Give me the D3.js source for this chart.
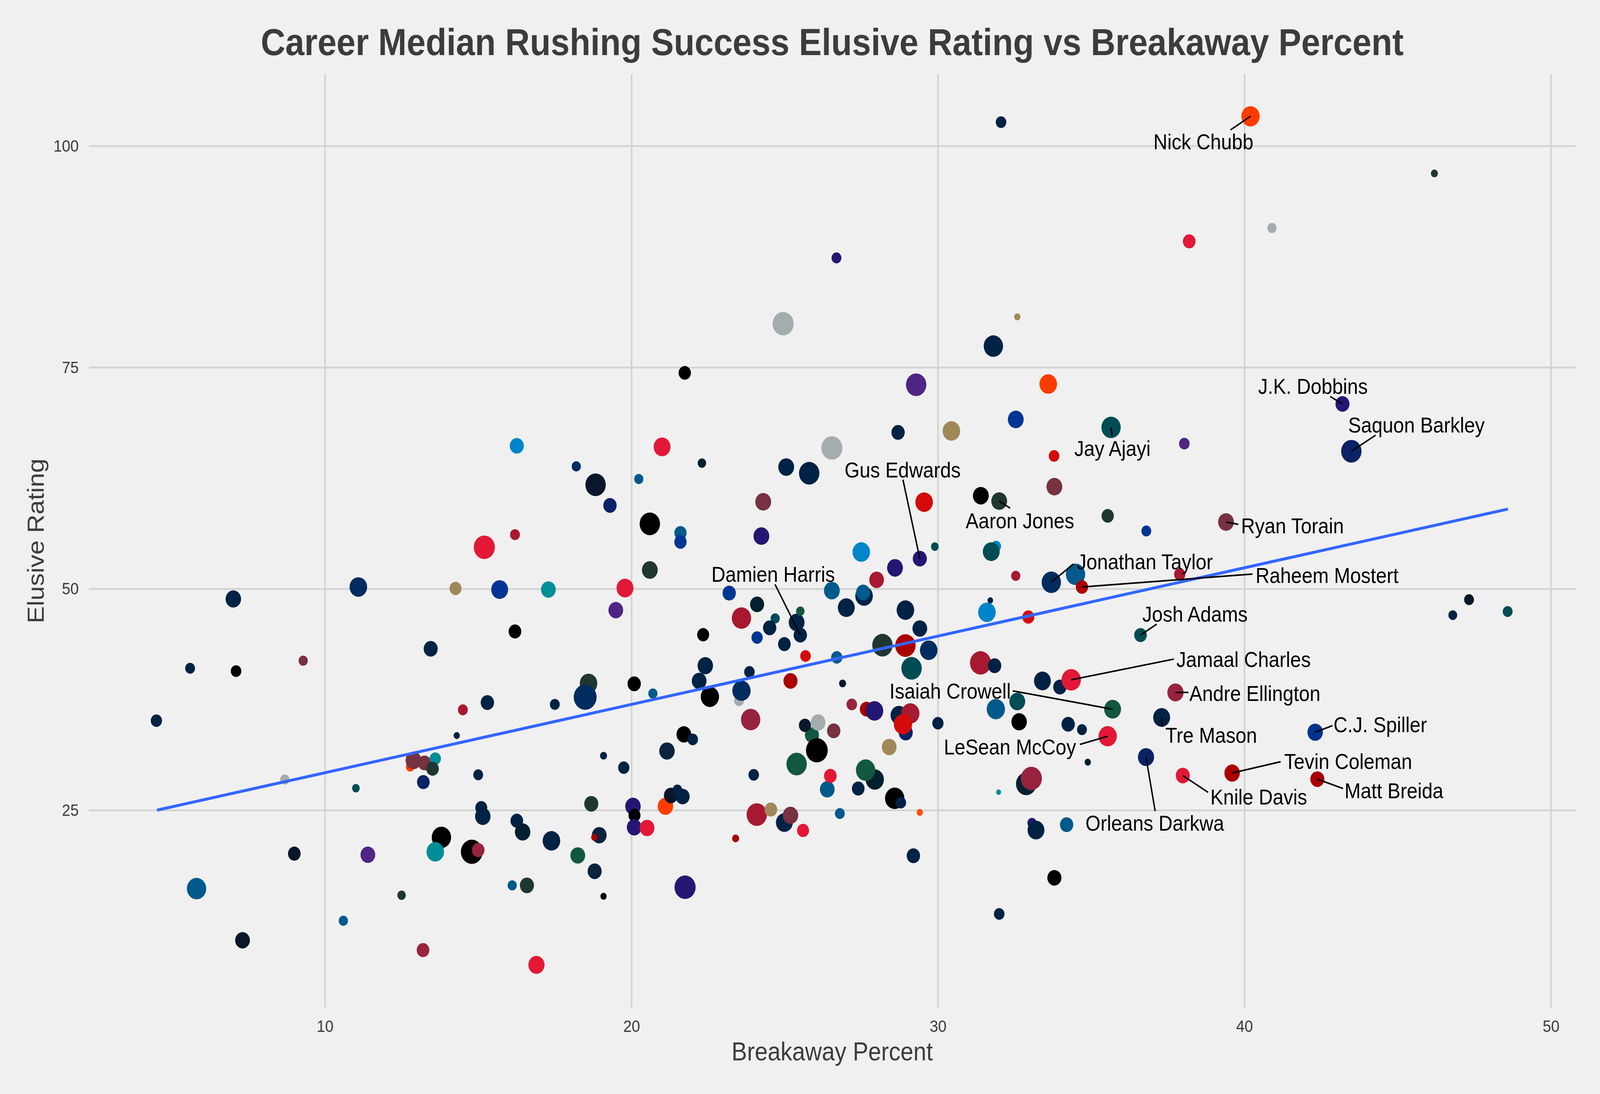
<!DOCTYPE html>
<html>
<head>
<meta charset="utf-8">
<script src="https://cdn.jsdelivr.net/npm/d3@7"></script>
<style>
  html, body { margin: 0; padding: 0; background: #f0f0f0; overflow: hidden; }
  svg { display: block; font-family: "Liberation Sans", Arial, sans-serif; }
</style>
</head>
<body>
<div id="chart"></div>
<script>
// labelled players come first in the point arrays
const player = ["Nick Chubb", "J.K. Dobbins", "Saquon Barkley", "Jay Ajayi", "Gus Edwards",
  "Aaron Jones", "Ryan Torain", "Jonathan Taylor", "Raheem Mostert", "Josh Adams",
  "Damien Harris", "Jamaal Charles", "Andre Ellington", "Isaiah Crowell", "LeSean McCoy",
  "Tre Mason", "C.J. Spiller", "Tevin Coleman", "Matt Breida", "Knile Davis", "Orleans Darkwa"];

const breakaway = [
  40.20, 43.20, 43.49, 35.65, 29.41, 32.00, 39.40, 33.70, 34.70, 36.61,
  25.51, 34.35, 37.75, 35.70, 35.54, 37.30, 42.31, 39.60, 42.38, 37.99, 36.79,
  16.26, 16.20, 15.20, 32.06, 26.69, 24.95, 32.59, 31.81, 21.74, 29.29,
  33.60, 32.54, 28.70, 30.44, 21.00, 18.20, 22.30, 18.83, 20.24, 25.05,
  25.80, 26.54, 19.30, 33.79, 33.80, 24.30, 29.55, 31.40, 20.60, 21.60,
  21.60, 24.24, 27.50, 28.60, 29.90, 31.90, 31.74, 20.60, 46.20, 40.90,
  38.20, 38.04, 35.54, 36.80,
  11.09, 7.01, 14.26, 15.70, 17.29, 16.20, 13.45, 9.29, 5.60, 7.10,
  4.50, 15.30, 14.50, 17.50, 14.30, 12.78, 12.89, 13.25, 13.60, 13.51,
  15.00, 8.69, 13.21, 11.01, 15.10, 15.15, 16.26, 16.45, 17.39, 13.80,
  9.00, 11.40, 13.60, 14.79, 15.00, 5.81, 12.50, 16.11, 16.59, 10.60,
  7.31, 13.20, 16.90,
  19.79, 19.49, 23.19, 24.10, 23.59, 24.69, 24.51, 24.10, 25.39, 25.51,
  24.99, 22.34, 25.68, 26.54, 27.01, 27.59, 27.56, 28.00, 28.94, 29.41,
  29.70, 28.19, 28.94, 29.14, 26.70, 25.19, 26.89, 31.39, 31.85, 31.60,
  31.71, 32.54, 32.95, 34.49, 33.41, 33.98, 31.89, 32.59, 32.65, 34.25,
  34.70, 34.89, 30.00, 28.73, 29.10, 28.95, 28.86, 27.67, 27.93, 27.19,
  26.60, 25.89, 25.66, 26.09, 26.05, 25.39, 23.89, 23.51, 23.59, 23.85,
  22.41, 22.21, 22.56, 21.71, 22.00, 21.16, 20.09, 20.70, 18.60, 18.49,
  19.09, 19.75, 23.99, 26.39, 26.49, 27.40, 27.94, 27.64, 28.41, 28.59,
  28.79, 29.41, 26.80, 31.98, 32.88, 33.05, 33.07, 33.20, 34.20, 33.80,
  29.20, 32.00, 21.75, 19.09, 18.80, 18.25, 18.69, 18.95, 18.79, 20.05,
  20.10, 20.09, 20.51, 21.11, 21.29, 21.50, 21.67, 23.40, 24.09, 24.55,
  24.99, 25.19, 25.60, 37.89, 47.33, 46.80, 48.59
];

const elusive = [
  103.35, 70.87, 65.53, 68.22, 53.40, 59.90, 57.54, 50.73, 50.20, 44.77,
  44.77, 39.72, 38.29, 36.40, 33.35, 35.47, 33.80, 29.19, 28.50, 28.91, 30.99,
  66.14, 56.11, 54.68, 102.69, 87.36, 79.93, 80.71, 77.40, 74.38, 73.04,
  73.12, 69.12, 67.65, 67.82, 66.02, 63.82, 64.19, 61.74, 62.39, 63.74,
  63.04, 65.90, 59.41, 65.00, 61.53, 59.82, 59.78, 60.51, 57.33, 56.31,
  55.29, 55.95, 54.15, 52.36, 54.76, 54.80, 54.19, 52.12, 96.90, 90.74,
  89.23, 66.39, 58.23, 56.52,
  50.20, 48.85, 50.04, 49.91, 49.91, 45.18, 43.22, 41.88, 41.02, 40.70,
  35.11, 37.15, 36.33, 36.94, 33.43, 29.89, 30.62, 30.33, 30.82, 29.68,
  28.99, 28.46, 28.17, 27.48, 25.28, 24.30, 23.81, 22.54, 21.54, 21.93,
  20.09, 19.97, 20.30, 20.30, 20.50, 16.14, 15.40, 16.51, 16.51, 12.51,
  10.31, 9.20, 7.53,
  50.08, 47.59, 49.51, 48.24, 46.69, 46.65, 45.59, 44.49, 46.20, 47.47,
  43.75, 44.81, 42.41, 49.79, 47.87, 49.18, 49.59, 51.01, 47.59, 45.51,
  43.06, 43.63, 43.59, 41.02, 42.25, 39.59, 39.31, 41.63, 41.31, 47.34,
  48.69, 51.46, 46.81, 51.63, 39.59, 38.90, 36.41, 37.27, 34.98, 34.70,
  34.09, 30.42, 34.82, 35.72, 35.92, 33.76, 34.70, 36.41, 36.21, 36.94,
  33.96, 33.48, 34.58, 34.90, 31.76, 30.21, 35.23, 37.35, 38.49, 40.61,
  41.31, 39.59, 37.80, 33.56, 32.99, 31.68, 39.27, 38.17, 39.31, 37.76,
  31.15, 29.80, 28.99, 27.36, 28.87, 27.44, 28.46, 29.52, 32.13, 26.34,
  25.85, 24.75, 24.62, 27.03, 27.97, 28.58, 23.56, 22.75, 23.36, 17.36,
  19.85, 13.28, 16.30, 15.28, 18.10, 19.89, 25.72, 22.17, 21.93, 25.44,
  24.42, 23.07, 22.99, 25.44, 26.66, 27.27, 26.54, 21.81, 24.50, 25.07,
  23.60, 24.42, 22.71, 51.63, 48.77, 47.02, 47.43
];

const carries = [
  338, 200, 420, 378, 200, 253, 253, 378, 153, 162,
  180, 378, 265, 288, 338, 288, 242, 242, 200, 200, 265,
  200, 98, 450, 112, 98, 450, 40, 378, 153, 420,
  312, 253, 180, 312, 288, 85, 72, 420, 85, 253,
  420, 450, 180, 112, 253, 253, 312, 253, 420, 153,
  153, 253, 312, 253, 60, 98, 288, 253, 50, 85,
  162, 112, 153, 98,
  312, 242, 145, 288, 220, 162, 200, 85, 98, 112,
  128, 180, 98, 98, 40, 72, 253, 180, 128, 162,
  98, 85, 162, 60, 145, 242, 162, 242, 312, 378,
  162, 220, 312, 480, 162, 378, 72, 85, 200, 85,
  220, 162, 265,
  288, 220, 180, 200, 378, 85, 180, 128, 253, 72,
  162, 145, 112, 253, 288, 312, 200, 220, 312, 220,
  312, 420, 420, 420, 128, 200, 50, 450, 180, 312,
  32, 85, 145, 378, 288, 180, 338, 253, 242, 180,
  98, 40, 128, 288, 338, 200, 338, 180, 312, 112,
  180, 200, 145, 220, 480, 420, 378, 98, 338, 112,
  242, 220, 338, 220, 112, 242, 180, 85, 312, 528,
  50, 128, 112, 220, 162, 162, 338, 378, 220, 378,
  112, 40, 98, 25, 420, 450, 85, 288, 180, 200,
  180, 112, 450, 40, 200, 220, 200, 220, 40, 242,
  145, 220, 220, 242, 200, 98, 200, 50, 420, 162,
  288, 242, 145, 128, 98, 78, 98
];

const team = [
  "CLE", "BAL", "NYG", "PHI", "BAL", "GB", "WAS", "IND", "SF", "PHI",
  "NE", "KC", "ARI", "NYJ", "KC", "NE", "BUF", "SF", "SF", "KC", "NYG",
  "CAR", "ATL", "KC", "NE", "BAL", "LV", "NO", "NE", "PIT", "MIN",
  "CLE", "LAR", "NE", "NO", "KC", "IND", "HOU", "CHI", "SEA", "NE",
  "NE", "LV", "NYG", "TB", "WAS", "WAS", "TB", "PIT", "PIT", "SEA",
  "LAR", "BAL", "CAR", "BAL", "PHI", "CAR", "PHI", "GB", "GB", "LV",
  "KC", "MIN", "GB", "LAR",
  "IND", "NE", "NO", "LAR", "MIA", "PIT", "NE", "WAS", "NE", "PIT",
  "NE", "NE", "ATL", "NE", "NE", "CLE", "WAS", "WAS", "MIA", "GB",
  "NE", "LV", "NYG", "PHI", "NE", "NE", "NE", "HOU", "NE", "PIT",
  "CHI", "MIN", "MIA", "PIT", "ARI", "SEA", "GB", "SEA", "GB", "SEA",
  "CHI", "ARI", "KC",
  "KC", "MIN", "LAR", "HOU", "ATL", "PHI", "NE", "LAR", "NE", "NYJ",
  "NE", "PIT", "TB", "SEA", "NE", "NE", "SEA", "ATL", "NE", "NE",
  "IND", "GB", "SF", "PHI", "SEA", "SF", "CHI", "ATL", "NE", "CAR",
  "NE", "ATL", "TB", "SEA", "NE", "NE", "SEA", "PHI", "PIT", "NE",
  "NE", "HOU", "NE", "NE", "ATL", "NYG", "TB", "SF", "BAL", "ARI",
  "WAS", "NYJ", "CHI", "LV", "PIT", "NYJ", "ARI", "LV", "IND", "NE",
  "NE", "NE", "PIT", "PIT", "NE", "TEN", "PIT", "SEA", "GB", "IND",
  "NE", "NE", "NE", "SEA", "KC", "NE", "HOU", "NYJ", "NO", "PIT",
  "NE", "DEN", "SEA", "MIA", "HOU", "ARI", "BAL", "NE", "SEA", "PIT",
  "NE", "NE", "BAL", "PIT", "TEN", "NYJ", "GB", "TEN", "SF", "BAL",
  "PIT", "BAL", "KC", "CLE", "CHI", "NE", "NE", "SF", "ATL", "NO",
  "NE", "WAS", "KC", "ATL", "CHI", "NE", "PHI"
];

// linear fit as drawn in the chart
const fitX = [4.52, 48.6];
const fitY = [25.0, 59.0];

const xTicks = [10, 20, 30, 40, 50];
const yTicks = [25, 50, 75, 100];

const teamColors = {
  NE: "#002244", IND: "#002C5F", CHI: "#0B162A", TEN: "#0C2340", NYG: "#0B2265",
  HOU: "#03202F", PIT: "#000000", LV: "#A5ACAF", NO: "#9F8958", BAL: "#241773",
  MIN: "#4F2683", ARI: "#97233F", ATL: "#A71930", WAS: "#773141", TB: "#D50A0A",
  SF: "#AA0000", KC: "#E31837", CLE: "#FF3C00", DEN: "#FB4F14", LAR: "#003594",
  BUF: "#00338D", CAR: "#0085CA", SEA: "#005A8B", PHI: "#004C54", NYJ: "#125740",
  GB: "#203731", MIA: "#008E97"
};

// label placement: text centre offset from point, then leader end offset from text centre
const labelLayout = {
  "Nick Chubb": [-134, 65, 77, -30],
  "J.K. Dobbins": [-84, -46, 49, 27],
  "Saquon Barkley": [185, -68, -116, 27],
  "Jay Ajayi": [4, 53, -1, -31],
  "Gus Edwards": [-49, -228, 1, 26],
  "Aaron Jones": [59, 50, -28, -32],
  "Ryan Torain": [189, 9, -154, -3],
  "Jonathan Taylor": [266, -53, -203, 6],
  "Raheem Mostert": [697, -30, -212, -3],
  "Josh Adams": [155, -54, -109, 26],
  "Damien Harris": [-77, -156, 5, 26],
  "Jamaal Charles": [490, -53, -198, 0],
  "Andre Ellington": [226, 2, -189, -2],
  "Isaiah Crowell": [-462, -47, 178, 0],
  "LeSean McCoy": [-278, 27, 199, -6],
  "Tre Mason": [141, 45, -139, -21],
  "C.J. Spiller": [185, -20, -136, 3],
  "Tevin Coleman": [330, -30, -192, 1],
  "Matt Breida": [218, 29, -145, -5],
  "Knile Davis": [216, 54, -144, -11],
  "Orleans Darkwa": [25, 168, 1, -30]
};

// drawn in a 4550 x 2800 frame, stretched to whatever the window is
const width = 4550;
const height = 2800;
const panel = {left: 253, right: 4480, top: 190, bottom: 2579};
const ink = "#3c3c3c";

const svg = d3.select("#chart").append("svg")
  .attr("width", window.innerWidth || width)
  .attr("height", window.innerHeight || height)
  .attr("viewBox", `0 0 ${width} ${height}`)
  .attr("preserveAspectRatio", "none");

svg.append("rect")
  .attr("width", width)
  .attr("height", height)
  .attr("fill", "#f0f0f0");

const x = d3.scaleLinear().domain([2.3, 50.8]).range([panel.left, panel.right]);
const y = d3.scaleLinear().domain([2.7, 108.1]).range([panel.bottom, panel.top]);
const r = d3.scaleSqrt().domain([0, d3.max(carries)]).range([0, 32.5]);
const color = d3.scaleOrdinal().domain(Object.keys(teamColors)).range(Object.values(teamColors));

// grid + tick labels
const xAxis = svg.append("g")
    .attr("transform", `translate(0,${panel.bottom})`)
    .call(d3.axisBottom(x).tickValues(xTicks)
      .tickSize(-(panel.bottom - panel.top)).tickPadding(31).tickFormat(d3.format("d")));

const yAxis = svg.append("g")
    .attr("transform", `translate(${panel.left},0)`)
    .call(d3.axisLeft(y).tickValues(yTicks)
      .tickSize(-(panel.right - panel.left)).tickPadding(29).tickFormat(d3.format("d")));

[xAxis, yAxis].forEach(g => {
  g.select(".domain").remove();
  g.selectAll(".tick line").attr("stroke", "#d2d2d2").attr("stroke-width", 4.5);
  g.selectAll(".tick text")
    .attr("fill", ink)
    .style("font-size", "43px")
    .style("font-family", "'Liberation Sans', Arial, sans-serif");
});

// points, labelled ones drawn on top
const rows = d3.range(breakaway.length).map(i => ({
  i, name: player[i] || "", x: breakaway[i], y: elusive[i], n: carries[i], team: team[i]
}));
const order = rows.filter(d => !d.name).concat(rows.filter(d => d.name));

svg.append("g")
  .selectAll("circle")
  .data(order)
  .enter().append("circle")
    .attr("cx", d => x(d.x))
    .attr("cy", d => y(d.y))
    .attr("r", d => r(d.n))
    .attr("fill", d => color(d.team));

// fitted line
const fit = fitX.map((v, i) => [v, fitY[i]]);
svg.append("path")
  .datum(fit)
  .attr("fill", "none")
  .attr("stroke", "#3366ff")
  .attr("stroke-width", 7.5)
  .attr("d", d3.line().x(d => x(d[0])).y(d => y(d[1])));

// repelled-style labels with leaders
const labelled = rows.filter(d => d.name);
const lab = svg.append("g");

lab.selectAll("line")
  .data(labelled)
  .enter().append("line")
    .attr("x1", d => x(d.x))
    .attr("y1", d => y(d.y))
    .attr("x2", d => x(d.x) + labelLayout[d.name][0] + labelLayout[d.name][2])
    .attr("y2", d => y(d.y) + labelLayout[d.name][1] + labelLayout[d.name][3])
    .attr("stroke", "#000")
    .attr("stroke-width", 4);

lab.selectAll("text")
  .data(labelled)
  .enter().append("text")
    .attr("x", d => x(d.x) + labelLayout[d.name][0])
    .attr("y", d => y(d.y) + labelLayout[d.name][1])
    .attr("dy", "0.36em")
    .attr("text-anchor", "middle")
    .style("font-size", "55px")
    .attr("fill", "#000")
    .text(d => d.name);

// titles
svg.append("text")
  .attr("x", (panel.left + panel.right) / 2)
  .attr("y", 141)
  .attr("text-anchor", "middle")
  .style("font-size", "97px")
  .style("font-weight", "bold")
  .attr("fill", ink)
  .text("Career Median Rushing Success Elusive Rating vs Breakaway Percent");

svg.append("text")
  .attr("x", (panel.left + panel.right) / 2)
  .attr("y", 2714)
  .attr("text-anchor", "middle")
  .style("font-size", "66px")
  .attr("fill", ink)
  .text("Breakaway Percent");

svg.append("text")
  .attr("transform", `translate(124,${(panel.top + panel.bottom) / 2}) rotate(-90)`)
  .attr("text-anchor", "middle")
  .style("font-size", "66px")
  .attr("fill", ink)
  .text("Elusive Rating");
</script>
</body>
</html>
